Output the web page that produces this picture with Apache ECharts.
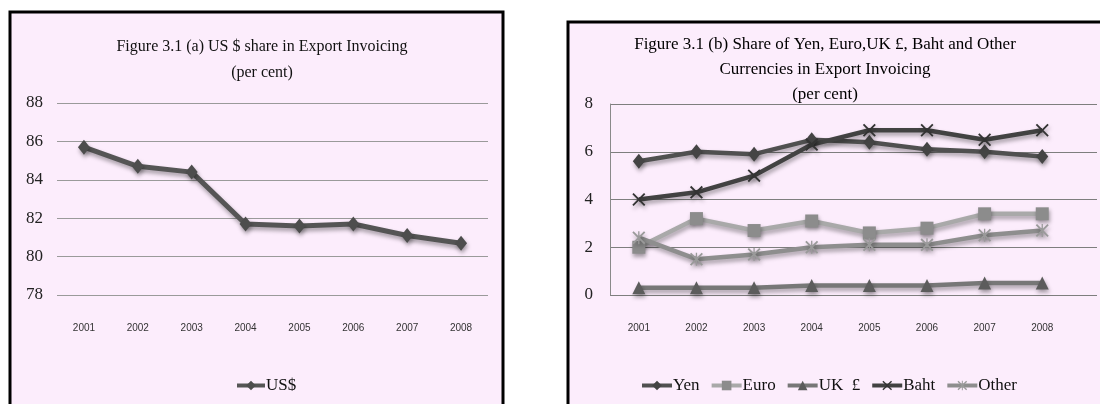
<!DOCTYPE html>
<html>
<head>
<meta charset="utf-8">
<script src="https://cdn.jsdelivr.net/npm/echarts@6/dist/echarts.min.js"></script>
<style>
  html, body { margin: 0; padding: 0; background: #ffffff; }
  #chart { width: 1100px; height: 404px; }
</style>
</head>
<body>
<div id="chart"></div>
<script>
// Years shown on both category axes
const years = [2001, 2002, 2003, 2004, 2005, 2006, 2007, 2008];
const yearLabels = years.map(String);

// (a) US dollar share in export invoicing, per cent
const usd = [85.7, 84.7, 84.4, 81.7, 81.6, 81.7, 81.1, 80.7];

// (b) other invoicing currencies, per cent
const yen   = [5.6, 6.0, 5.9, 6.5, 6.4, 6.1, 6.0, 5.8];
const euro  = [2.0, 3.2, 2.7, 3.1, 2.6, 2.8, 3.4, 3.4];
const ukp   = [0.3, 0.3, 0.3, 0.4, 0.4, 0.4, 0.5, 0.5];
const baht  = [4.0, 4.3, 5.0, 6.3, 6.9, 6.9, 6.5, 6.9];
const other = [2.4, 1.5, 1.7, 2.0, 2.1, 2.1, 2.5, 2.7];

// Axis ticks
const ticksA = [78, 80, 82, 84, 86, 88];
const ticksB = [0, 2, 4, 6, 8];

const SERIF = "'Liberation Serif', 'Times New Roman', serif";
const SANS = "'Liberation Sans', Arial, sans-serif";
const PANEL = '#fcedfc';

const shadow = {
  shadowBlur: 4,
  shadowOffsetX: 1,
  shadowOffsetY: 3,
  shadowColor: 'rgba(0,0,0,0.35)'
};

// Marker shapes drawn as filled outlines
const crossPath = 'path://M0,1L1,0L5,4L9,0L10,1L6,5L10,9L9,10L5,6L1,10L0,9L4,5Z';
const starPath = 'path://M0,1L1,0L5,4L9,0L10,1L6,5L10,9L9,10L5,6L1,10L0,9L4,5ZM4.5,0L5.5,0L5.5,10L4.5,10Z';

function pairs(vals) {
  return years.map((y, i) => [y, vals[i]]);
}

function lineB(name, vals, lineColor, symbol, symbolSize, markColor) {
  return {
    name: name,
    type: 'line',
    xAxisIndex: 1,
    yAxisIndex: 1,
    data: pairs(vals),
    symbol: symbol,
    symbolSize: symbolSize,
    showAllSymbol: true,
    lineStyle: Object.assign({ color: lineColor, width: 4.5 }, shadow),
    itemStyle: Object.assign({ color: markColor }, shadow),
    emphasis: { disabled: true },
    animation: false
  };
}

const chart = echarts.init(document.getElementById('chart'), null, { renderer: 'canvas' });

chart.setOption({
  backgroundColor: '#ffffff',
  animation: false,
  graphic: [
    {
      type: 'rect', z: -10,
      shape: { x: 10, y: 12, width: 493, height: 400 },
      style: { fill: PANEL, stroke: '#000000', lineWidth: 3 }
    },
    {
      type: 'rect', z: -10,
      shape: { x: 568, y: 22, width: 600, height: 400 },
      style: { fill: PANEL, stroke: '#000000', lineWidth: 3 }
    }
  ],
  title: [
    {
      text: 'Figure 3.1 (a) US $ share in Export Invoicing\n(per cent)',
      left: 257, top: 29, textAlign: 'center',
      textStyle: { fontFamily: SERIF, fontSize: 16, fontWeight: 'normal', color: '#111', lineHeight: 26 }
    },
    {
      text: 'Figure 3.1 (b) Share of Yen, Euro,UK \u00a3, Baht and Other\nCurrencies in Export Invoicing\n(per cent)',
      left: 820, top: 27, textAlign: 'center',
      textStyle: { fontFamily: SERIF, fontSize: 17, fontWeight: 'normal', color: '#000', lineHeight: 25 }
    }
  ],
  legend: [
    {
      data: ['US$'],
      left: 230, top: 372,
      itemWidth: 28, itemHeight: 12, itemGap: 10,
      lineStyle: { width: 4 },
      textStyle: { fontFamily: SERIF, fontSize: 17, color: '#111', padding: [0, 0, 0, -4] }
    },
    {
      data: ['Yen', 'Euro', 'UK  \u00a3', 'Baht', 'Other'],
      left: 635, top: 372,
      itemWidth: 30, itemHeight: 12, itemGap: 10,
      lineStyle: { width: 4 },
      textStyle: { fontFamily: SERIF, fontSize: 17, color: '#111', padding: [0, 0, 0, -4] }
    }
  ],
  grid: [
    { left: 57, right: 612, top: 103, bottom: 109 },
    { left: 610, right: 3, top: 104, bottom: 109 }
  ],
  xAxis: [
    {
      gridIndex: 0, type: 'category', data: yearLabels, boundaryGap: true,
      axisLine: { show: false }, axisTick: { show: false },
      axisLabel: { margin: 28, fontFamily: SANS, fontSize: 10, color: '#333' }
    },
    {
      gridIndex: 1, type: 'value', min: 2000.5, max: 2008.95,
      axisLine: { show: false }, axisTick: { show: false },
      splitLine: { show: false },
      axisLabel: {
        customValues: years, margin: 28, fontFamily: SANS, fontSize: 10, color: '#333',
        formatter: v => String(v)
      }
    }
  ],
  yAxis: [
    {
      gridIndex: 0, type: 'value', min: ticksA[0], max: ticksA[ticksA.length - 1], interval: 2,
      axisLine: { show: false }, axisTick: { show: false },
      splitLine: { lineStyle: { color: '#9a9a9a', width: 1 } },
      axisLabel: { margin: 14, fontFamily: SERIF, fontSize: 17, color: '#222' }
    },
    {
      gridIndex: 1, type: 'value', min: ticksB[0], max: ticksB[ticksB.length - 1], interval: 2,
      axisLine: { show: true, lineStyle: { color: '#8a8a8a', width: 1 } }, axisTick: { show: false },
      splitLine: { lineStyle: { color: '#7e7e7e', width: 1 } },
      axisLabel: { margin: 17, fontFamily: SERIF, fontSize: 17, color: '#222' }
    }
  ],
  series: [
    {
      name: 'US$', type: 'line', xAxisIndex: 0, yAxisIndex: 0,
      data: usd,
      symbol: 'diamond', symbolSize: [12, 15],
      lineStyle: Object.assign({ color: '#555555', width: 5 }, shadow),
      itemStyle: Object.assign({ color: '#4d4d4d' }, shadow),
      emphasis: { disabled: true }
    },
    lineB('Yen', yen, '#505050', 'diamond', [12, 15], '#444444'),
    lineB('Euro', euro, '#a9a9a9', 'rect', 13, '#8c8c8c'),
    lineB('UK  \u00a3', ukp, '#777777', 'triangle', 13, '#5c5c5c'),
    lineB('Baht', baht, '#424242', crossPath, 13, '#333333'),
    lineB('Other', other, '#8e8e8e', starPath, 13, '#9a9a9a')
  ]
});
</script>
</body>
</html>
